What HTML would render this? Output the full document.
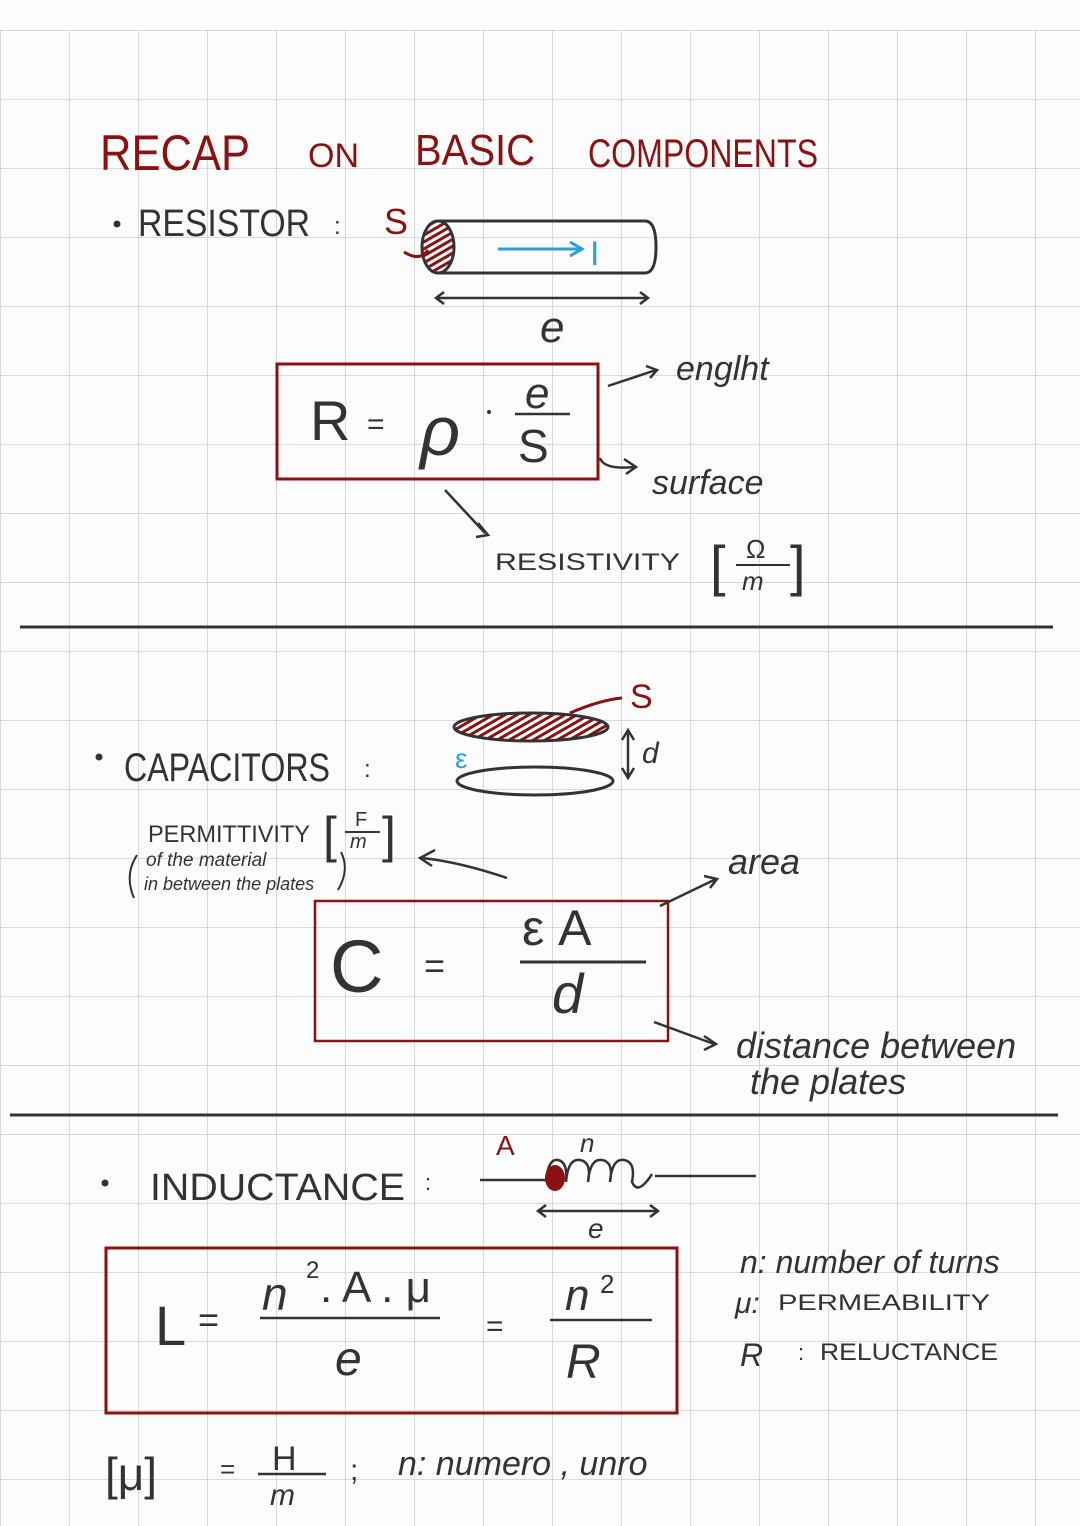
<!DOCTYPE html>
<html><head><meta charset="utf-8"><style>
html,body{margin:0;padding:0;background:#fcfcfc;}
svg{display:block;}
text{font-family:"Liberation Sans",sans-serif;}
</style></head><body>
<svg width="1080" height="1526" viewBox="0 0 1080 1526" xmlns="http://www.w3.org/2000/svg">
<defs>
<pattern id="g" x="0" y="30" width="69" height="69" patternUnits="userSpaceOnUse">
<path d="M0 0H69M0 0V69" stroke="#c6c6c6" stroke-width="1.3" fill="none"/>
</pattern>
<pattern id="h" width="6" height="6" patternUnits="userSpaceOnUse" patternTransform="rotate(60)">
<rect width="6" height="6" fill="#fff"/><rect width="3" height="6" fill="#8b1212"/>
</pattern>
</defs>
<rect x="0" y="30" width="1080" height="1496" fill="url(#g)"/>
<g fill="#8b1212" font-weight="normal">
<text x="100" y="170" textLength="150" lengthAdjust="spacingAndGlyphs" font-size="50">RECAP</text>
<text x="308" y="167" font-size="34">ON</text>
<text x="415" y="165" textLength="120" lengthAdjust="spacingAndGlyphs" font-size="44">BASIC</text>
<text x="588" y="167" textLength="230" lengthAdjust="spacingAndGlyphs" font-size="40">COMPONENTS</text>
</g>
<g fill="#333" stroke="none">
<circle cx="117" cy="224" r="3.5"/>
<text x="138" y="236" font-size="38" textLength="172" lengthAdjust="spacingAndGlyphs">RESISTOR</text>
<text x="334" y="234" font-size="24">:</text>
</g>
<text x="384" y="234" font-size="36" fill="#8b1212">S</text>
<g fill="none" stroke="#333" stroke-width="3">
<path d="M437 221 H645 Q656 221 656 247 Q656 273 645 273 H437"/>
<ellipse cx="438" cy="247" rx="16" ry="26" fill="url(#h)"/>
<path d="M404 252 Q420 262 428 250" stroke="#8b1212"/>
<path d="M436 298 H648 M444 292 L436 298 L444 304 M640 292 L648 298 L640 304" stroke-width="2.5"/>
</g>
<path d="M498 249 H580 M570 242 L582 249 L570 256" stroke="#2aa0d8" stroke-width="3" fill="none"/>
<text x="590" y="265" font-size="34" fill="#2aa0d8">I</text>
<text x="540" y="342" font-size="44" fill="#333" font-style="italic">e</text>
<rect x="277" y="364" width="321" height="115" fill="none" stroke="#8b1212" stroke-width="3"/>
<text x="310" y="440" font-size="56" fill="#333">R</text>
<text x="367" y="434" font-size="30" fill="#333">=</text>
<text x="420" y="455" font-size="70" fill="#333" font-style="italic">ρ</text>
<circle cx="489" cy="412" r="2" fill="#333"/>
<text x="525" y="408" font-size="44" fill="#333" font-style="italic">e</text>
<path d="M515 414 H570" stroke="#333" stroke-width="2.5"/>
<text x="518" y="462" font-size="46" fill="#333">S</text>
<g fill="none" stroke="#333" stroke-width="2.5">
<path d="M608 386 L656 370 M646 366 L657 370 L650 378"/>
<path d="M600 458 Q604 470 634 467 M624 459 L636 467 L626 474"/>
<path d="M445 490 L485 533 M478 523 L488 535 L476 537"/>
<path d="M20 627 H1053 M10 1115 H1058" stroke-width="3"/>
</g>
<g fill="#333" font-style="italic">
<text x="676" y="380" font-size="34">englht</text>
<text x="652" y="494" font-size="34">surface</text>
</g>
<text x="495" y="570" font-size="24" fill="#333" textLength="185" lengthAdjust="spacingAndGlyphs">RESISTIVITY</text>
<text x="710" y="585" font-size="56" fill="#333">[</text><text x="790" y="585" font-size="56" fill="#333">]</text>
<text x="746" y="558" font-size="26" fill="#333">Ω</text>
<path d="M736 565 H790" stroke="#333" stroke-width="2"/>
<text x="742" y="590" font-size="26" fill="#333" font-style="italic">m</text>
<circle cx="99" cy="757" r="3.5" fill="#333"/>
<text x="124" y="781" font-size="40" fill="#333" textLength="206" lengthAdjust="spacingAndGlyphs">CAPACITORS</text>
<text x="364" y="777" font-size="24" fill="#333">:</text>
<ellipse cx="531" cy="727" rx="77" ry="14" fill="url(#h)" stroke="#333" stroke-width="3"/>
<ellipse cx="535" cy="781" rx="78" ry="14" fill="none" stroke="#333" stroke-width="3"/>
<path d="M570 713 Q600 700 622 698" stroke="#8b1212" stroke-width="3" fill="none"/>
<text x="630" y="708" font-size="34" fill="#8b1212">S</text>
<text x="455" y="768" font-size="28" fill="#2aa0d8">ε</text>
<path d="M628 732 V776 M622 740 L628 730 L634 740 M622 768 L628 778 L634 768" stroke="#333" stroke-width="2.5" fill="none"/>
<text x="642" y="763" font-size="30" fill="#333" font-style="italic">d</text>
<text x="148" y="842" font-size="24" fill="#333" textLength="162" lengthAdjust="spacingAndGlyphs">PERMITTIVITY</text>
<text x="323" y="852" font-size="50" fill="#333">[</text><text x="382" y="852" font-size="50" fill="#333">]</text>
<text x="355" y="826" font-size="20" fill="#333">F</text>
<path d="M345 832 H380" stroke="#333" stroke-width="2"/>
<text x="350" y="848" font-size="20" fill="#333" font-style="italic">m</text>
<text x="146" y="866" font-size="19" fill="#333" font-style="italic">of the material</text>
<text x="144" y="890" font-size="18" fill="#333" font-style="italic">in between the plates</text>
<path d="M137 855 Q124 875 134 898 M341 852 Q350 870 338 890" stroke="#333" stroke-width="2" fill="none"/>
<path d="M507 878 Q460 862 422 858 M435 850 L420 858 L432 866" stroke="#333" stroke-width="2.5" fill="none"/>
<rect x="315" y="901" width="353" height="140" fill="none" stroke="#8b1212" stroke-width="2.5"/>
<text x="330" y="992" font-size="74" fill="#333">C</text>
<text x="424" y="978" font-size="36" fill="#333">=</text>
<text x="522" y="945" font-size="50" fill="#333">ε A</text>
<path d="M520 962 H646" stroke="#333" stroke-width="3"/>
<text x="552" y="1013" font-size="56" fill="#333" font-style="italic">d</text>
<path d="M660 906 L716 879 M704 876 L717 879 L710 888 M654 1022 L714 1044 M704 1036 L716 1044 L704 1050" stroke="#333" stroke-width="2.5" fill="none"/>
<text x="728" y="874" font-size="36" fill="#333" font-style="italic">area</text>
<text x="736" y="1058" font-size="36" fill="#333" font-style="italic">distance  between</text>
<text x="750" y="1094" font-size="36" fill="#333" font-style="italic">the  plates</text>
<circle cx="105" cy="1183" r="3.5" fill="#333"/>
<text x="150" y="1200" font-size="38" fill="#333" textLength="255" lengthAdjust="spacingAndGlyphs">INDUCTANCE</text>
<text x="425" y="1190" font-size="22" fill="#333">:</text>
<path d="M480 1180 H548 M655 1176 H756 M546 1182 q2 -24 12 -22 q10 2 8 22 q2 -24 14 -22 q12 2 8 22 q2 -24 14 -22 q12 2 8 22 q2 -24 14 -22 q12 2 8 22 q6 14 20 -8" stroke="#333" stroke-width="2.5" fill="none"/>
<ellipse cx="555" cy="1178" rx="10" ry="13" fill="#8b1212"/>
<text x="496" y="1155" font-size="28" fill="#8b1212">A</text>
<text x="580" y="1152" font-size="26" fill="#333" font-style="italic">n</text>
<path d="M538 1211 H658 M546 1205 L538 1211 L546 1217 M650 1205 L658 1211 L650 1217" stroke="#333" stroke-width="2.5" fill="none"/>
<text x="588" y="1238" font-size="28" fill="#333" font-style="italic">e</text>
<rect x="106" y="1248" width="571" height="165" fill="none" stroke="#8b1212" stroke-width="3"/>
<text x="155" y="1345" font-size="56" fill="#333">L</text>
<text x="198" y="1332" font-size="36" fill="#333">=</text>
<text x="262" y="1310" font-size="46" fill="#333" font-style="italic">n</text>
<text x="306" y="1278" font-size="24" fill="#333">2</text>
<text x="320" y="1302" font-size="44" fill="#333">. A . μ</text>
<path d="M260 1318 H440" stroke="#333" stroke-width="2.5"/>
<text x="335" y="1375" font-size="48" fill="#333" font-style="italic">e</text>
<text x="486" y="1336" font-size="30" fill="#333">=</text>
<text x="565" y="1310" font-size="44" fill="#333" font-style="italic">n</text>
<text x="600" y="1293" font-size="26" fill="#333">2</text>
<path d="M550 1320 H652" stroke="#333" stroke-width="2.5"/>
<text x="566" y="1378" font-size="48" fill="#333" font-style="italic">R</text>
<text x="740" y="1273" font-size="32" fill="#333" font-style="italic">n: number of turns</text>
<text x="735" y="1313" font-size="30" fill="#333" font-style="italic">μ:</text>
<text x="778" y="1310" font-size="22" fill="#333" textLength="212" lengthAdjust="spacingAndGlyphs">PERMEABILITY</text>
<text x="740" y="1366" font-size="32" fill="#333" font-style="italic">R</text>
<text x="798" y="1360" font-size="22" fill="#333">:</text>
<text x="820" y="1360" font-size="24" fill="#333" textLength="178" lengthAdjust="spacingAndGlyphs">RELUCTANCE</text>
<text x="105" y="1490" font-size="46" fill="#333">[μ]</text>
<text x="220" y="1478" font-size="26" fill="#333">=</text>
<text x="272" y="1470" font-size="34" fill="#333">H</text>
<path d="M258 1474 H326" stroke="#333" stroke-width="2.5"/>
<text x="270" y="1505" font-size="30" fill="#333" font-style="italic">m</text>
<text x="350" y="1480" font-size="30" fill="#333">;</text>
<text x="398" y="1475" font-size="34" fill="#333" font-style="italic">n: numero , unro</text>
</svg>
</body></html>
